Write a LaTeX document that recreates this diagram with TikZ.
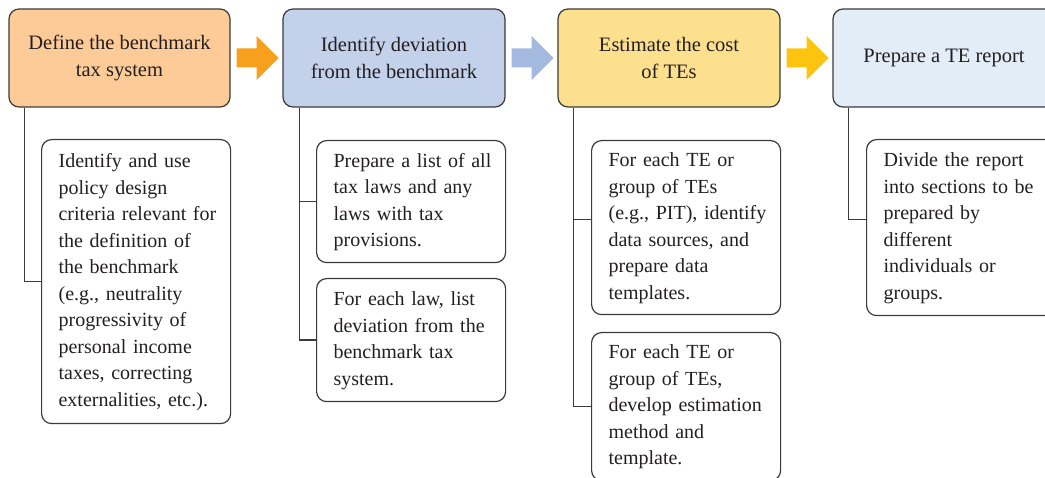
\documentclass[tikz,border=0pt]{standalone}
\usepackage{fontspec}
\setmainfont{Liberation Serif}
\usetikzlibrary{calc}
\definecolor{txt}{HTML}{231F20}
\definecolor{bord}{HTML}{3A3A3A}
\definecolor{fOrange}{HTML}{FDCB97}
\definecolor{fBlue}{HTML}{C4D1EA}
\definecolor{fYellow}{HTML}{FDE08D}
\definecolor{fLight}{HTML}{E3EDF8}
\definecolor{aOrange}{HTML}{F6A01E}
\definecolor{aBlue}{HTML}{A4B9E0}
\definecolor{aYellow}{HTML}{FDC40F}
\tikzset{
  headbox/.style={draw=bord, line width=1.2pt, rounded corners=10pt, minimum width=222pt,
    minimum height=98pt, inner sep=0pt, align=center, text=txt,
    font={\fontsize{20.5}{26.5}\selectfont}},
  subbox/.style={draw=bord, line width=1.2pt, rounded corners=10pt, anchor=north west,
    minimum width=189pt, inner xsep=17pt, inner ysep=0pt, text width=155pt, align=left, text=txt,
    font={\fontsize{20}{26.5}\selectfont}},
  conn/.style={draw=bord, line width=1.2pt},
}
\newcommand\textlines[1]{\begin{tabular}{@{}l@{}}#1\end{tabular}}
\newcommand\blockarrow[2]{%
  \fill[#2] ($(#1.east)+(6,-9.5)$) -- ++(20,0) -- ++(0,-12.5) -- ++(22,22) -- ++(-22,22)
    -- ++(0,-12.5) -- ++(-20,0) -- cycle;}
\begin{document}
\begin{tikzpicture}[x=1pt,y=-1pt]
\useasboundingbox (0,0) rectangle (1045,478);
% header boxes
\node[headbox, fill=fOrange, minimum width=221pt] (b1) at (119.5,58) {Define the benchmark\\tax system};
\node[headbox, fill=fBlue] (b2) at (394,58) {Identify deviation\\from the benchmark};
\node[headbox, fill=fYellow] (b3) at (669,58) {Estimate the cost\\of TEs};
\node[headbox, fill=fLight] (b4) at (944,58) {Prepare a TE report};
% arrows
\blockarrow{b1}{aOrange}
\blockarrow{b2}{aBlue}
\blockarrow{b3}{aYellow}
% sub boxes
\node[subbox, minimum height=284pt] (s1) at (41,139) {\textlines{Identify and use\\policy design\\criteria relevant for\\the definition of\\the benchmark\\(e.g., neutrality\\progressivity of\\personal income\\taxes, correcting\\externalities, etc.).}};
\node[subbox, minimum height=122pt] (s2a) at (316,140) {\textlines{Prepare a list of all\\tax laws and any\\laws with tax\\provisions.}};
\node[subbox, minimum height=123pt] (s2b) at (316,278) {\textlines{For each law, list\\deviation from the\\benchmark tax\\system.}};
\node[subbox, minimum height=174pt] (s3a) at (591,140) {\textlines{For each TE or\\group of TEs\\(e.g., PIT), identify\\data sources, and\\prepare data\\templates.}};
\node[subbox, minimum height=148pt] (s3b) at (591,332) {\textlines{For each TE or\\group of TEs,\\develop estimation\\method and\\template.}};
\node[subbox, minimum height=176pt] (s4) at (866,139) {\textlines{Divide the report\\into sections to be\\prepared by\\different\\individuals or\\groups.}};
% connectors
\draw[conn] ($(b1.south west)+(16,0)$) |- (s1.west);
\draw[conn] ($(b2.south west)+(17,0)$) |- (s2a.west);
\draw[conn] ($(b2.south west)+(17,0)$) |- (s2b.west);
\draw[conn] ($(b3.south west)+(16,0)$) |- ([yshift=8pt]s3a.west);
\draw[conn] ($(b3.south west)+(16,0)$) |- (s3b.west);
\draw[conn] ($(b4.south west)+(16,0)$) |- ([yshift=8pt]s4.west);
\end{tikzpicture}
\end{document}
